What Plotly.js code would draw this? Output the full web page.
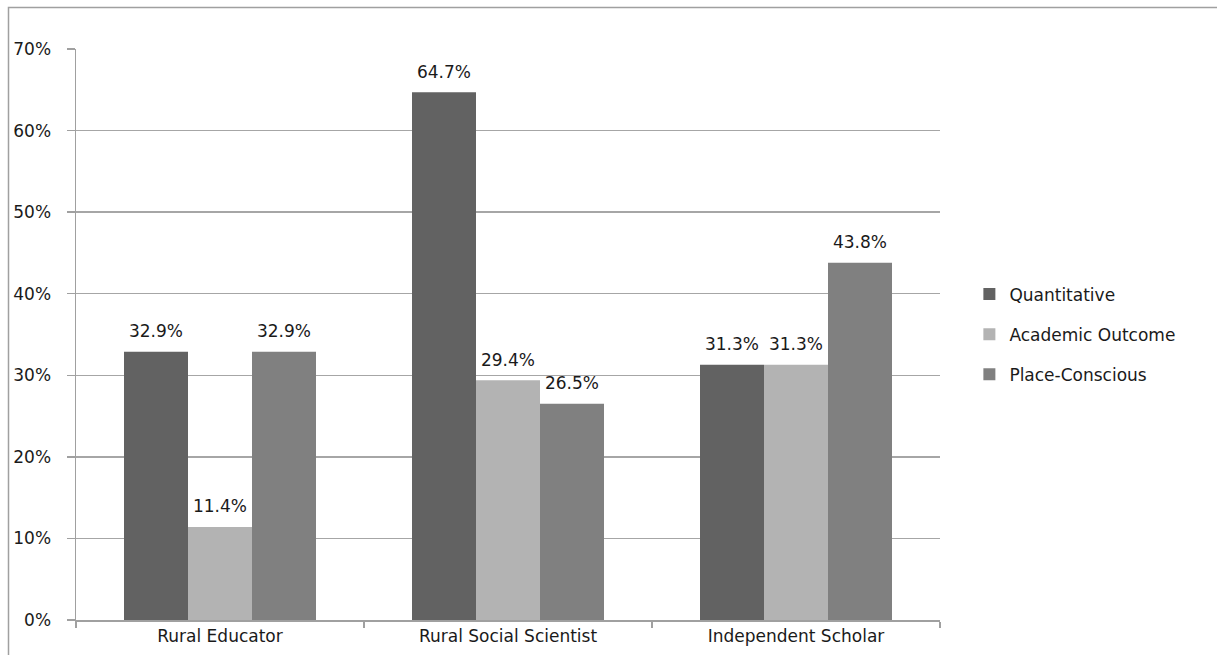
<!DOCTYPE html>
<html>
<head>
<meta charset="utf-8">
<script src="https://cdn.plot.ly/plotly-3.0.1.min.js"></script>
<style>
html,body{margin:0;padding:0;background:#fff;}
#chart{width:1217px;height:655px;}
</style>
</head>
<body>
<div id="chart"></div>
<script>
const categories = ["Rural Educator", "Rural Social Scientist", "Independent Scholar"];
const seriesNames = ["Quantitative", "Academic Outcome", "Place-Conscious"];
const quantitative = [0.329, 0.647, 0.313];
const academicOutcome = [0.114, 0.294, 0.313];
const placeConscious = [0.329, 0.265, 0.438];
const yTickValues = [0, 0.1, 0.2, 0.3, 0.4, 0.5, 0.6, 0.7];
const yTickLabels = ["0%", "10%", "20%", "30%", "40%", "50%", "60%", "70%"];

const colors = ["#626262", "#b3b3b3", "#808080"];
const seriesValues = [quantitative, academicOutcome, placeConscious];
const FONT = "DejaVu Sans";

const barTraces = seriesValues.map((vals, i) => ({
  type: "bar",
  name: seriesNames[i],
  x: categories,
  y: vals,
  legendgroup: "g" + i,
  marker: {color: colors[i], line: {width: 0}},
  hoverinfo: "skip"
}));

const labelTraces = seriesValues.map((vals, i) => ({
  type: "scatter",
  mode: "markers+text",
  x: categories,
  y: vals,
  showlegend: false,
  marker: {size: 15, opacity: 0},
  text: vals.map(v => (v * 100).toFixed(1) + "%"),
  textposition: "top center",
  cliponaxis: false,
  textfont: {family: FONT, size: 17, color: "#1a1a1a"},
  hoverinfo: "skip"
}));

const layout = {
  width: 1217,
  height: 655,
  margin: {l: 76, r: 277, t: 49, b: 35},
  paper_bgcolor: "#ffffff",
  plot_bgcolor: "#ffffff",
  barmode: "group",
  bargap: 0.3333,
  bargroupgap: 0,
  scattermode: "group",
  scattergap: 0.3333,
  showlegend: true,
  font: {family: FONT, size: 16, color: "#1a1a1a"},
  xaxis: {
    type: "category",
    showline: true,
    linecolor: "#a0a0a0",
    linewidth: 1.5,
    ticks: "outside",
    tickson: "boundaries",
    ticklen: 6,
    tickcolor: "#a0a0a0",
    tickwidth: 1.5,
    showgrid: false,
    tickfont: {family: FONT, size: 17, color: "#1a1a1a"},
    fixedrange: true
  },
  yaxis: {
    range: [0, 0.7],
    tickvals: yTickValues,
    ticktext: yTickLabels,
    showline: true,
    linecolor: "#a0a0a0",
    linewidth: 1.5,
    showgrid: true,
    gridcolor: "#a6a6a6",
    gridwidth: 1.5,
    ticks: "outside",
    ticklen: 8,
    tickcolor: "#a0a0a0",
    tickwidth: 1.5,
    ticklabelstandoff: 12,
    zeroline: false,
    tickfont: {family: FONT, size: 17, color: "#1a1a1a"},
    fixedrange: true
  },
  legend: {
    x: 1.034,
    xanchor: "left",
    y: 0.5,
    yanchor: "middle",
    tracegroupgap: 15,
    font: {family: FONT, size: 17, color: "#1a1a1a"},
    bgcolor: "rgba(0,0,0,0)",
    itemwidth: 30
  },
  shapes: [{
    type: "rect",
    xref: "paper", yref: "paper",
    x0: (8.5 - 76) / 864, x1: 1.5,
    y0: -0.5, y1: (620 - 7.5) / 571,
    line: {color: "#a0a0a0", width: 1.5},
    fillcolor: "rgba(0,0,0,0)",
    layer: "below"
  }]
};

Plotly.newPlot("chart", barTraces.concat(labelTraces), layout, {displayModeBar: false, staticPlot: true});
</script>
</body>
</html>
